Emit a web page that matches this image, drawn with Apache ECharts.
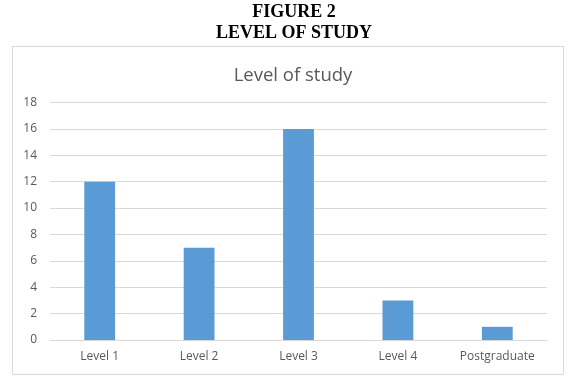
<!DOCTYPE html>
<html>
<head>
<meta charset="utf-8">
<script src="https://cdn.jsdelivr.net/npm/echarts@6/dist/echarts.min.js"></script>
<style>
html,body{margin:0;padding:0;background:#fff;}
#chart{width:574px;height:380px;}
</style>
</head>
<body>
<div id="chart"></div>
<script>
var categories = ['Level 1', 'Level 2', 'Level 3', 'Level 4', 'Postgraduate'];
var values = [12, 7, 16, 3, 1];
var yTicks = [0, 2, 4, 6, 8, 10, 12, 14, 16, 18];

var chart = echarts.init(document.getElementById('chart'), null, {renderer: 'canvas'});
chart.setOption({
  backgroundColor: '#ffffff',
  animation: false,
  graphic: [{
    type: 'rect',
    shape: {x: 12.5, y: 46.5, width: 551, height: 328},
    style: {fill: 'none', stroke: '#d9d9d9', lineWidth: 1},
    z: -1
  }],
  title: [{
    text: 'FIGURE 2\nLEVEL OF STUDY',
    left: 289,
    top: -3,
    textAlign: 'center',
    textStyle: {fontFamily: 'Liberation Serif', fontWeight: 'bold', fontSize: 18, color: '#000', lineHeight: 21}
  }, {
    text: 'Level of study',
    left: 288,
    top: 61,
    textAlign: 'center',
    textStyle: {fontFamily: 'Open Sans', fontWeight: 'normal', fontSize: 18.5, color: '#595959'}
  }],
  grid: {left: 50, right: 27, top: 102.5, bottom: 40, containLabel: false},
  xAxis: {
    type: 'category',
    data: categories,
    axisLine: {lineStyle: {color: '#d9d9d9'}},
    axisTick: {show: false},
    axisLabel: {color: '#595959', fontSize: 12, fontFamily: 'Open Sans', margin: 11}
  },
  yAxis: {
    type: 'value',
    min: yTicks[0],
    max: yTicks[yTicks.length - 1],
    interval: 2,
    axisLine: {show: false},
    axisTick: {show: false},
    splitLine: {lineStyle: {color: '#d9d9d9'}},
    axisLabel: {color: '#595959', fontSize: 12, fontFamily: 'Open Sans', margin: 13}
  },
  series: [{
    type: 'bar',
    data: values,
    barWidth: '31%',
    itemStyle: {color: '#5b9bd5'}
  }]
});
</script>
</body>
</html>
